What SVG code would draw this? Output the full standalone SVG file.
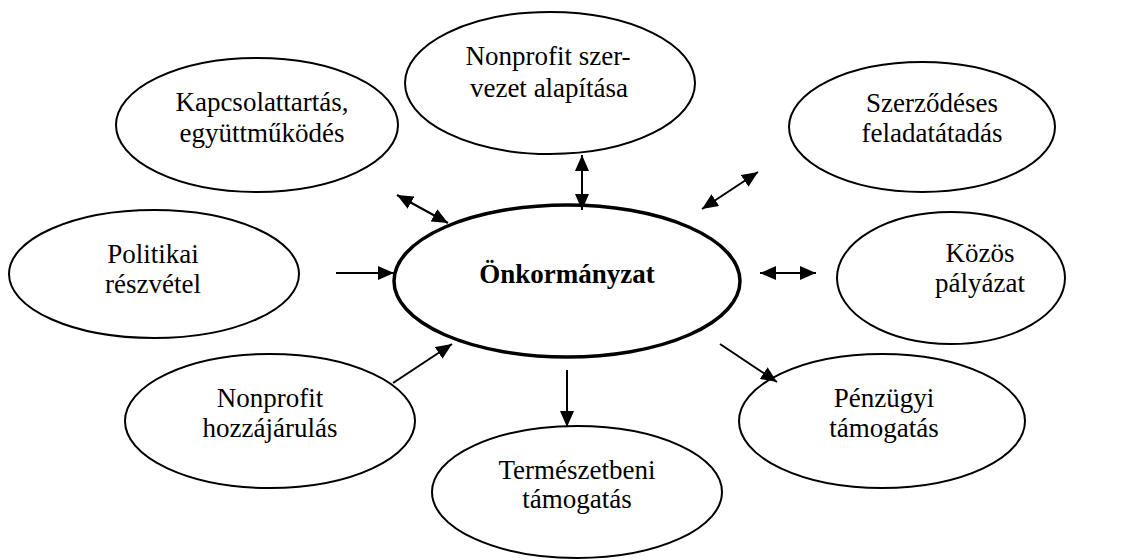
<svg xmlns="http://www.w3.org/2000/svg" width="1125" height="560" viewBox="0 0 1125 560">
<style>
.n{fill:#fff;stroke:#000;stroke-width:2}
.c{fill:#fff;stroke:#000;stroke-width:3.5}
.t{font-family:"Liberation Serif","Times New Roman",serif;font-size:27px;fill:#000;text-anchor:middle}
.b{font-weight:bold}
.l{stroke:#000;stroke-width:2;fill:none;marker-end:url(#ah)}
.d{marker-start:url(#ah)}
</style>
<defs>
<marker id="ah" markerUnits="userSpaceOnUse" markerWidth="16" markerHeight="14" refX="16" refY="7" orient="auto-start-reverse" viewBox="0 0 16 14">
<path d="M0,0 L16,7 L0,14 z" fill="#000"/>
</marker>
</defs>
<rect width="1125" height="560" fill="#fff"/>
<g id="n-top">
<ellipse class="n" cx="550" cy="83" rx="145" ry="71"/>
<text class="t" x="548" y="65">Nonprofit szer-</text>
<text class="t" x="549" y="97">vezet alapítása</text>
</g>
<g id="n-kapcs">
<ellipse class="n" cx="257" cy="125" rx="141" ry="67"/>
<text class="t" x="262" y="111">Kapcsolattartás,</text>
<text class="t" x="262" y="142">együttműködés</text>
</g>
<g id="n-szerz">
<ellipse class="n" cx="922" cy="127" rx="133" ry="65"/>
<text class="t" x="932" y="112">Szerződéses</text>
<text class="t" x="932" y="142">feladatátadás</text>
</g>
<g id="n-polit">
<ellipse class="n" cx="154" cy="274" rx="145" ry="64"/>
<text class="t" x="153" y="263">Politikai</text>
<text class="t" x="153" y="293">részvétel</text>
</g>
<g id="n-kozos">
<ellipse class="n" cx="951" cy="278" rx="114" ry="66"/>
<text class="t" x="980" y="262">Közös</text>
<text class="t" x="980" y="292">pályázat</text>
</g>
<g id="n-hozza">
<ellipse class="n" cx="270" cy="421" rx="145" ry="67"/>
<text class="t" x="270" y="407">Nonprofit</text>
<text class="t" x="270" y="437">hozzájárulás</text>
</g>
<g id="n-term">
<ellipse class="n" cx="577" cy="492" rx="145" ry="66"/>
<text class="t" x="577" y="479">Természetbeni</text>
<text class="t" x="577" y="508">támogatás</text>
</g>
<g id="n-penz">
<ellipse class="n" cx="882" cy="421" rx="143" ry="67"/>
<text class="t" x="884" y="407">Pénzügyi</text>
<text class="t" x="884" y="437">támogatás</text>
</g>
<g id="n-center">
<ellipse class="c" cx="567" cy="281" rx="173" ry="76"/>
<text class="t b" x="567" y="283">Önkormányzat</text>
</g>
<g id="connectors">
<line class="l d" x1="582" y1="155" x2="582" y2="210"/>
<line class="l d" x1="397" y1="195" x2="448" y2="223"/>
<line class="l d" x1="758" y1="172" x2="702" y2="209"/>
<line class="l d" x1="760" y1="273" x2="816" y2="273"/>
<line class="l" x1="336" y1="273" x2="394" y2="273"/>
<line class="l" x1="393" y1="383" x2="452" y2="344"/>
<line class="l" x1="567" y1="370" x2="567" y2="427"/>
<line class="l" x1="720" y1="344" x2="777" y2="382"/>
</g>
</svg>
